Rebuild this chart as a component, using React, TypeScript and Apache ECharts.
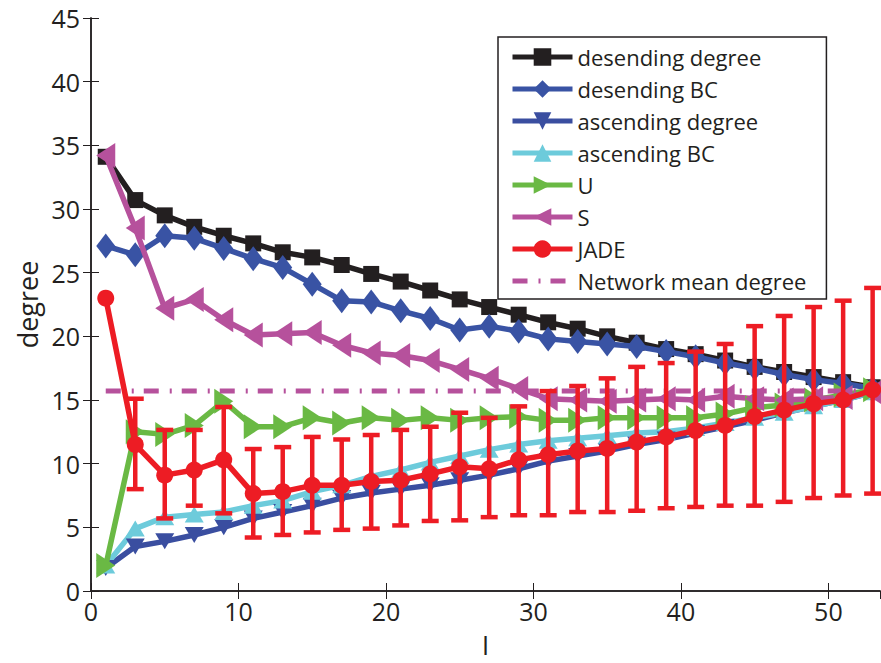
import React, { useEffect, useRef } from 'react';
import * as echarts from 'echarts';

const xs = [1, 3, 5, 7, 9, 11, 13, 15, 17, 19, 21, 23, 25, 27, 29, 31, 33, 35, 37, 39, 41, 43, 45, 47, 49, 51, 53];

const descDegree = [34.1, 30.7, 29.5, 28.6, 27.9, 27.3, 26.6, 26.2, 25.6, 24.9, 24.3, 23.6, 22.9, 22.3, 21.7, 21.1, 20.6, 20.0, 19.5, 19.0, 18.6, 18.1, 17.6, 17.2, 16.8, 16.4, 16.0];
const descBC = [27.1, 26.4, 27.9, 27.7, 26.9, 26.1, 25.4, 24.1, 22.8, 22.7, 22.0, 21.4, 20.5, 20.8, 20.4, 19.8, 19.6, 19.4, 19.2, 18.8, 18.4, 17.9, 17.5, 17.0, 16.6, 16.3, 15.9];
const ascDegree = [1.8, 3.5, 3.9, 4.4, 5.0, 5.7, 6.2, 6.7, 7.3, 7.7, 8.0, 8.3, 8.7, 9.1, 9.6, 10.2, 10.6, 11.0, 11.5, 11.9, 12.4, 12.9, 13.4, 14.0, 14.5, 15.0, 15.6];
const ascBC = [2.0, 4.9, 5.8, 6.0, 6.2, 6.7, 7.1, 7.8, 8.3, 9.0, 9.5, 10.1, 10.6, 11.1, 11.5, 11.8, 12.0, 12.2, 12.4, 12.5, 12.8, 13.2, 13.6, 14.0, 14.5, 15.0, 15.6];
const uSeries = [2.0, 12.5, 12.3, 13.0, 14.9, 12.9, 12.9, 13.6, 13.2, 13.6, 13.4, 13.6, 13.4, 13.6, 13.7, 13.4, 13.4, 13.6, 13.6, 13.6, 13.6, 13.9, 14.4, 14.6, 15.0, 15.4, 15.8];
const sSeries = [34.2, 28.5, 22.2, 22.9, 21.3, 20.1, 20.2, 20.3, 19.3, 18.7, 18.5, 18.1, 17.4, 16.7, 15.9, 15.1, 15.0, 14.9, 15.0, 15.1, 15.0, 15.3, 15.1, 15.0, 15.1, 15.2, 15.6];
const jade = [23.0, 11.5, 9.1, 9.5, 10.3, 7.65, 7.8, 8.3, 8.3, 8.6, 8.7, 9.2, 9.75, 9.6, 10.3, 10.7, 11.0, 11.2, 11.7, 12.1, 12.6, 13.0, 13.7, 14.2, 14.7, 15.0, 15.8];
const jadeLow = [null, 8.0, 5.7, 6.7, 6.1, 4.2, 4.4, 4.6, 4.8, 4.9, 5.15, 5.5, 5.55, 5.8, 5.95, 5.95, 6.2, 6.2, 6.3, 6.5, 6.6, 6.7, 6.7, 7.0, 7.3, 7.5, 7.65];
const jadeHigh = [null, 15.1, 12.65, 12.65, 14.45, 11.15, 11.3, 12.1, 11.9, 12.25, 12.65, 12.9, 14.0, 13.6, 14.5, 15.7, 16.1, 16.7, 17.6, 17.9, 18.8, 19.4, 20.8, 21.6, 22.3, 22.8, 23.8];
const meanDegree = 15.7;
const meanX = [1, 53];

const names = ['desending degree', 'desending BC', 'ascending degree', 'ascending BC', 'U', 'S', 'JADE', 'Network mean degree'];
const xTicks = [0, 10, 20, 30, 40, 50];
const yTicks = [0, 5, 10, 15, 20, 25, 30, 35, 40, 45];

const FONT = 'Open Sans';
const TXT = '#231f20';

export default function App() {
  const ref = useRef<HTMLDivElement>(null);
  useEffect(() => {
    const chart = echarts.init(ref.current!, null, { renderer: 'svg' });
    const pair = (ys: number[]) => xs.map((x, i) => [x, ys[i]]);
    const errData = xs
      .map((x, i) => [x, jadeLow[i], jadeHigh[i]])
      .filter((d) => d[1] != null);

    const line = (name: string, ys: number[], color: string, symbol: string, size: any, rotate = 0, z = 2) => ({
      name,
      type: 'line',
      data: pair(ys),
      symbol,
      symbolSize: size,
      symbolRotate: rotate,
      z,
      lineStyle: { color, width: 5.5 },
      itemStyle: { color, borderWidth: 0 },
    });

    const hideAxis = {
      axisLabel: { show: false },
      splitLine: { show: false },
      axisLine: { show: true, lineStyle: { color: TXT, width: 1.5 } },
      axisTick: { show: true, inside: true, length: 8, lineStyle: { color: TXT, width: 1 } },
    };

    const legendData = names.map((n, i) =>
      i === 7 ? { name: n, itemStyle: { color: 'rgba(0,0,0,0)', opacity: 0 } } : { name: n }
    );

    const option: any = {
      animation: false,
      backgroundColor: '#ffffff',
      textStyle: { fontFamily: FONT },
      grid: { left: 91, right: 1, top: 18, bottom: 72, containLabel: false },
      legend: {
        orient: 'vertical',
        left: 498,
        top: 37,
        data: legendData,
        itemWidth: 60,
        itemHeight: 22,
        itemGap: 10,
        padding: [9, 20, 7, 12],
        borderColor: TXT,
        borderWidth: 1.5,
        backgroundColor: '#ffffff',
        lineStyle: { width: 5 },
        textStyle: { fontSize: 22, color: TXT, fontFamily: FONT },
        z: 20,
      },
      xAxis: [
        {
          type: 'value',
          min: 0,
          max: 53.5,
          interval: 10,
          name: 'l',
          nameLocation: 'middle',
          nameGap: 41,
          nameTextStyle: { fontSize: 26, color: TXT, fontFamily: FONT },
          axisLine: { show: true, lineStyle: { color: TXT, width: 1.5 } },
          axisTick: { show: true, inside: true, length: 8, lineStyle: { color: TXT, width: 1 } },
          axisLabel: {
            fontSize: 25,
            color: TXT,
            margin: 7,
            showMaxLabel: false,
            formatter: (v: number) => (xTicks.indexOf(v) >= 0 ? String(v) : ''),
          },
          splitLine: { show: false },
        },
        { type: 'value', position: 'top', min: 0, max: 53.5, interval: 10, ...hideAxis },
      ],
      yAxis: [
        {
          type: 'value',
          min: 0,
          max: 45,
          interval: 5,
          name: 'degree',
          nameLocation: 'middle',
          nameGap: 50,
          nameTextStyle: { fontSize: 27, color: TXT, fontFamily: FONT },
          axisLine: { show: true, lineStyle: { color: TXT, width: 1.5 } },
          axisTick: { show: true, inside: true, length: 8, lineStyle: { color: TXT, width: 1 } },
          axisLabel: {
            fontSize: 25,
            color: TXT,
            margin: 11,
            formatter: (v: number) => (yTicks.indexOf(v) >= 0 ? String(v) : ''),
          },
          splitLine: { show: false },
        },
        { type: 'value', position: 'right', min: 0, max: 45, interval: 5, ...hideAxis },
      ],
      series: [
        line(names[0], descDegree, '#231f20', 'rect', 16, 0, 2),
        line(names[1], descBC, '#3953a4', 'diamond', [19, 25], 0, 3),
        line(names[2], ascDegree, '#3a4ea0', 'triangle', [19, 16], 180, 3),
        line(names[3], ascBC, '#6dcbdb', 'triangle', [19, 16], 0, 3),
        line(names[4], uSeries, '#6ab944', 'triangle', [25, 19], -90, 4),
        line(names[5], sSeries, '#b6519c', 'triangle', [25, 19], 90, 4),
        {
          name: names[7],
          type: 'line',
          data: meanX.map((x) => [x, meanDegree]),
          symbol: 'none',
          z: 5,
          lineStyle: { color: '#b6519c', width: 5, type: [15, 11, 2, 10] },
          itemStyle: { color: '#b6519c' },
        },
        {
          name: 'JADE-err',
          type: 'custom',
          z: 6,
          data: errData,
          encode: { x: 0, y: [1, 2] },
          renderItem: (params: any, api: any) => {
            const x = api.value(0);
            const lo = api.coord([x, api.value(1)]);
            const hi = api.coord([x, api.value(2)]);
            const hw = 8.5;
            const st = { stroke: '#ed1c24', lineWidth: 4.5 };
            return {
              type: 'group',
              children: [
                { type: 'line', shape: { x1: lo[0], y1: lo[1], x2: hi[0], y2: hi[1] }, style: st },
                { type: 'line', shape: { x1: lo[0] - hw, y1: lo[1], x2: lo[0] + hw, y2: lo[1] }, style: st },
                { type: 'line', shape: { x1: hi[0] - hw, y1: hi[1], x2: hi[0] + hw, y2: hi[1] }, style: st },
              ],
            };
          },
        },
        line(names[6], jade, '#ed1c24', 'circle', 17, 0, 7),
      ],
    };
    chart.setOption(option);
    return () => chart.dispose();
  }, []);
  return <div ref={ref} style={{ position: 'fixed', left: 0, top: 0, width: 881, height: 663 }} />;
}
